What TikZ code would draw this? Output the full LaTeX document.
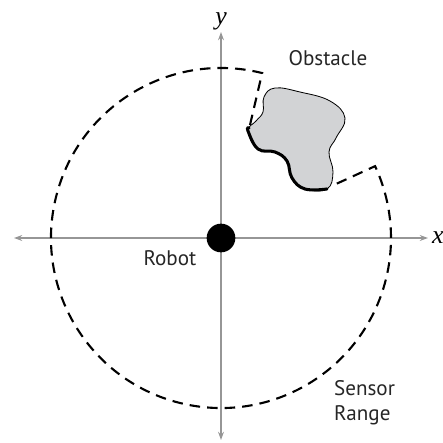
\documentclass[tikz,border=0pt]{standalone}
\usepackage{fontspec}
\setmainfont{PT Sans}
\newfontfamily\axisfont{Liberation Serif}
\usepackage{xcolor}
\usetikzlibrary{arrows.meta, positioning}

\definecolor{axisgray}{RGB}{150,150,150}
\definecolor{blobgray}{RGB}{210,211,213}

\begin{document}
\begin{tikzpicture}[
    x=0.03cm, y=0.03cm,
    axis/.style={
        draw=axisgray,
        line width=1.1pt,
        {Stealth[length=7pt,width=5pt]}-{Stealth[length=7pt,width=5pt]}
    },
    sensorline/.style={
        draw,
        line width=1.8pt,
        dash pattern=on 9pt off 6pt
    },
    caption/.style={
        font=\fontsize{18}{21}\selectfont,
        text=black!85,
        align=left
    },
    axislabel/.style={
        font=\axisfont\itshape\fontsize{22}{24}\selectfont
    }
]

\useasboundingbox (-221,-205) rectangle (221,238);

% axes
\coordinate (xmin) at (-207,0);
\coordinate (xmax) at (207,0);
\coordinate (ymin) at (0,-202);
\coordinate (ymax) at (0,206);

\draw[axis] (xmin) -- (xmax);
\draw[axis] (ymin) -- (ymax);

\node[axislabel, right=0pt of xmax] (xlabel) {x};
\node[axislabel, above=-2pt of ymax] (ylabel) {y};

% obstacle
\filldraw[fill=blobgray, line width=0.7pt]
    plot[smooth cycle, tension=0.7] coordinates {
        (43,141) (54,150) (79,146) (109,137) (124,120) (115,100)
        (108,86) (112,66) (106,49) (84,49) (71,60) (66,77)
        (54,86) (37,89) (27,107) (35,117) (42,126)};
\draw[line width=2.6pt, line cap=round]
    plot[smooth, tension=0.7] coordinates {
        (28,110) (27,107) (37,89) (54,86) (66,77) (71,60) (84,49) (106,49)};

% sensor range
\coordinate (gapleft) at (29,113);
\coordinate (gapright) at (115,54);
\draw[sensorline] (gapleft) -- (76:170) arc[start angle=76, end angle=385, radius=170]
    -- (gapright);

% robot
\node[circle, fill=black, minimum size=0.86cm, inner sep=0pt] (robot) at (0,0) {};

\node[caption] (robotlabel) at (-51,-20) {Robot};
\node[caption] (obstaclelabel) at (107,180) {Obstacle};
\node[caption, anchor=west] (rangelabel) at (109,-165) {Sensor\\Range};

\end{tikzpicture}
\end{document}
